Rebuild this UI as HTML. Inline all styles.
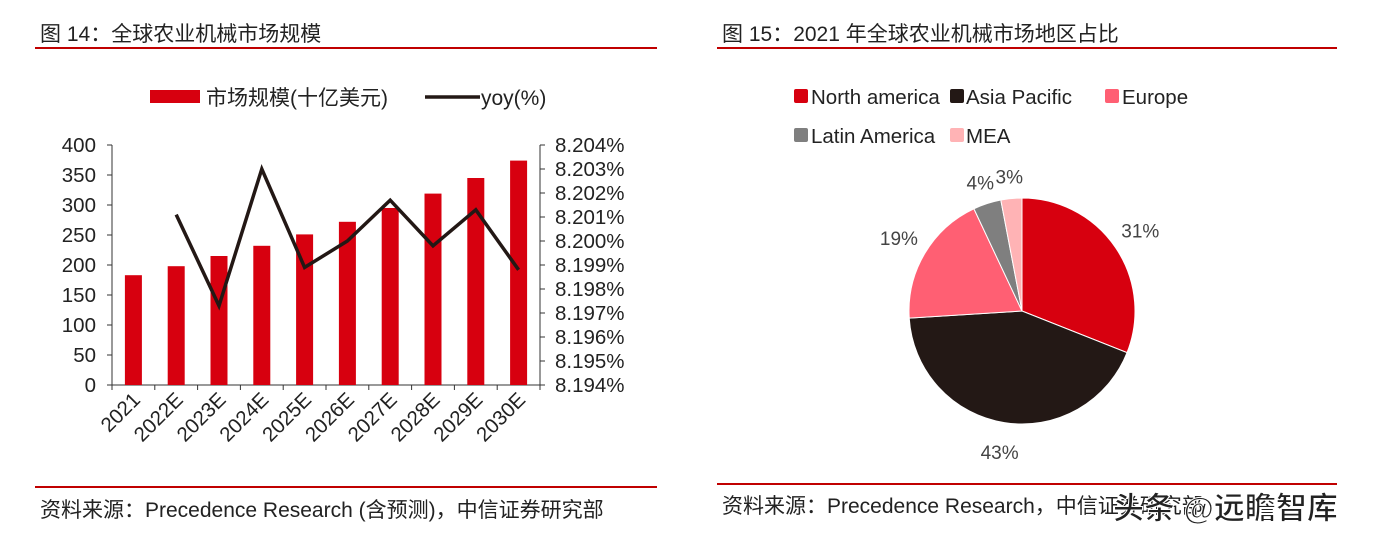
<!DOCTYPE html>
<html><head><meta charset="utf-8">
<style>
body{margin:0;width:1382px;height:537px;background:#fff;overflow:hidden;font-family:"Liberation Sans","Noto Sans CJK SC",sans-serif;}
svg{position:absolute;left:0;top:0}
text{font-family:"Liberation Sans","Noto Sans CJK SC",sans-serif;}
</style></head><body>
<svg id="s" width="1382" height="537">
<text x="40" y="41" font-size="21" fill="#222">图 14：全球农业机械市场规模</text>
<rect x="35" y="47" width="622" height="2" fill="#c00000"/>
<text x="722" y="41" font-size="21" fill="#222">图 15：2021 年全球农业机械市场地区占比</text>
<rect x="717" y="47" width="620" height="2" fill="#c00000"/>
<rect x="35" y="486" width="622" height="2" fill="#c00000"/>
<rect x="717" y="483" width="620" height="2" fill="#c00000"/>
<text x="40" y="517" font-size="21" fill="#222">资料来源：Precedence Research (含预测)，中信证券研究部</text>
<text x="722" y="513" font-size="21" fill="#222">资料来源：Precedence Research，中信证券研究部</text>
<text x="1113" y="519" font-size="31" font-weight="bold" fill="#222" stroke="#fff" stroke-width="1">头条 @远瞻智库</text>

<g>
<rect x="150" y="90" width="50" height="13" fill="#d7000f"/>
<text x="206" y="105" font-size="21" fill="#222">市场规模(十亿美元)</text>
</g>
<g>
<line x1="425" y1="97" x2="480" y2="97" stroke="#231815" stroke-width="3.5"/>
<text x="481" y="105" font-size="21" fill="#222">yoy(%)</text>
</g>
<g id="chart"></g>

<g>
<rect x="794" y="89" width="14" height="14" rx="2" fill="#d7000f"/><text x="811" y="104" font-size="20.5" fill="#222">North america</text>
<rect x="950" y="89" width="14" height="14" rx="2" fill="#231815"/><text x="966" y="104" font-size="20.5" fill="#222">Asia Pacific</text>
<rect x="1105" y="89" width="14" height="14" rx="2" fill="#ff5f73"/><text x="1122" y="104" font-size="20.5" fill="#222">Europe</text>
<rect x="794" y="128" width="14" height="14" rx="2" fill="#7f7f7f"/><text x="811" y="143" font-size="20.5" fill="#222">Latin America</text>
<rect x="950" y="128" width="14" height="14" rx="2" fill="#ffb3b5"/><text x="966" y="143" font-size="20.5" fill="#222">MEA</text>
</g>
<g id="pie"></g>
</svg>
<script>
const categories=["2021","2022E","2023E","2024E","2025E","2026E","2027E","2028E","2029E","2030E"];
const marketSize=[183,198,215,232,251,272,295,319,345,374];
const yoy=[null,8.2011,8.1973,8.2030,8.1989,8.2000,8.2017,8.1998,8.2013,8.1988];
const leftTicks=[0,50,100,150,200,250,300,350,400];
const rightTicks=[8.194,8.195,8.196,8.197,8.198,8.199,8.200,8.201,8.202,8.203,8.204];
const regions=["North america","Asia Pacific","Europe","Latin America","MEA"];
const shares=[31,43,19,4,3];
const regionColors=["#d7000f","#231815","#ff5f73","#7f7f7f","#ffb3b5"];

const NS="http://www.w3.org/2000/svg";
function mk(tag,attrs,parent){const e=document.createElementNS(NS,tag);for(const k in attrs)e.setAttribute(k,attrs[k]);parent.appendChild(e);return e;}
const g=document.getElementById('chart');
const X0=112,X1=540,Y0=385,Y1=145;
const bw=(X1-X0)/categories.length;
const xc=i=>X0+bw*(i+0.5);
const yL=v=>Y0-(v-0)/(400-0)*(Y0-Y1);
const yR=v=>Y0-(v-8.194)/(8.204-8.194)*(Y0-Y1);
let a=mk('line',{x1:X0,y1:Y1,x2:X0,y2:Y0,stroke:'#333','stroke-width':1},g);

a=mk('line',{x1:X1,y1:Y1,x2:X1,y2:Y0,stroke:'#333','stroke-width':1},g);

a=mk('line',{x1:X0,y1:Y0,x2:X1,y2:Y0,stroke:'#333','stroke-width':1},g);

leftTicks.forEach(v=>{const y=yL(v);mk('line',{x1:X0-5,y1:y,x2:X0,y2:y,stroke:'#333'},g);
const t=mk('text',{x:X0-16,y:y+7,'font-size':20.5,'text-anchor':'end',fill:'#222'},g);t.textContent=v;
});
rightTicks.forEach(v=>{const y=yR(v);mk('line',{x1:X1,y1:y,x2:X1+5,y2:y,stroke:'#333'},g);
const t=mk('text',{x:X1+15,y:y+7,'font-size':20.5,fill:'#222'},g);t.textContent=v.toFixed(3)+'%';
});
for(let i=0;i<=categories.length;i++){const x=X0+bw*i;mk('line',{x1:x,y1:Y0,x2:x,y2:Y0+5,stroke:'#333'},g);}
categories.forEach((c,i)=>{
const r=mk('rect',{x:xc(i)-8.5,y:yL(marketSize[i]),width:17,height:Y0-yL(marketSize[i]),fill:'#d7000f'},g);

const x=xc(i)+8,y=Y0+16;
const t=mk('text',{x:x,y:y,'font-size':20.5,'text-anchor':'end',fill:'#222',transform:`rotate(-45 ${x} ${y})`},g);
t.textContent=c;
});
const pts=yoy.map((v,i)=>v==null?null:xc(i)+','+yR(v)).filter(p=>p);
const pl=mk('polyline',{points:pts.join(' '),fill:'none',stroke:'#231815','stroke-width':3.5,'stroke-linejoin':'miter'},g);


const pg=document.getElementById('pie');
const cx=1022,cy=311,R=113;
const total=shares.reduce((s,v)=>s+v,0);
let ang=0;
shares.forEach((v,i)=>{
const a0=ang,a1=ang+v/total*2*Math.PI;ang=a1;
const p=(a)=>[cx+R*Math.sin(a),cy-R*Math.cos(a)];
const [x0,y0]=p(a0),[x1,y1]=p(a1);
const path=mk('path',{d:`M${cx},${cy}L${x0},${y0}A${R},${R} 0 ${a1-a0>Math.PI?1:0} 1 ${x1},${y1}Z`,fill:regionColors[i],stroke:'#fff','stroke-width':1},pg);


const m=(a0+a1)/2, lr=R+(v<6?22:30);
const lx=cx+lr*Math.sin(m),ly=cy-lr*Math.cos(m);
const t=mk('text',{x:lx,y:ly+7,'font-size':19,'text-anchor':'middle',fill:'#444'},pg);
t.textContent=v+'%';
});
</script>
</body></html>
